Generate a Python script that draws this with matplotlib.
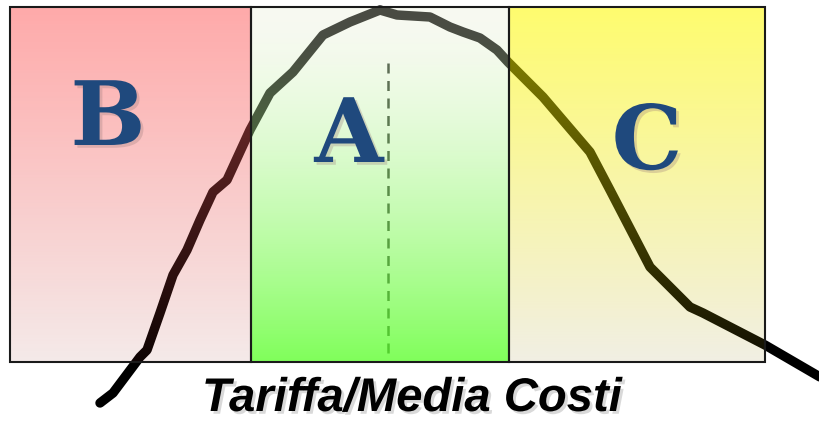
import numpy as np
import matplotlib
matplotlib.use('Agg')
import matplotlib.pyplot as plt
import matplotlib.patheffects as pe
from matplotlib.patches import Rectangle

# Zones (left to right) in pixel units
zone_labels = ['B', 'A', 'C']
zone_edges = [10, 251, 509, 765]
zone_top = 7
zone_bottom = 362

# gradient colours: (rgb, alpha) at top and bottom of each zone
zone_top_col = [((255, 100, 100), 0.55), ((233, 239, 214), 0.32), ((255, 250, 0), 0.57)]
zone_bot_col = [((150, 40, 30), 0.10), ((96, 255, 49), 0.80), ((140, 120, 20), 0.12)]
zone_ramp = [1.0, 1.6, 1.0]   # how fast each gradient moves to the bottom colour

# letter positions (centre x, baseline y)
label_x = [108, 349, 647]
label_y = [145, 162, 169]

# the curve
curve_x = [100, 113, 140, 147, 160, 173, 187, 200, 213, 227, 250, 270, 293, 323,
           350, 380, 397, 430, 450, 463, 480, 497, 508, 543, 590, 610, 650, 690,
           703, 765, 820]
curve_y = [403, 393, 357, 350, 313, 275, 250, 220, 192, 180, 130, 93, 72, 35,
           22, 10, 15, 17, 27, 32, 38, 50, 62, 97, 152, 190, 267, 307,
           313, 345, 377]

# dashed marker (mean)
mean_x = 388
mean_y = (63, 355)

title = 'Tariffa/Media Costi'

fig = plt.figure(figsize=(8.2, 4.22), dpi=100)
ax = fig.add_axes([0, 0, 1, 1])
ax.set_xlim(0, 820)
ax.set_ylim(422, 0)
ax.axis('off')

# curve and dashed line go under the translucent zones
ax.plot(curve_x, curve_y, color='black', lw=6.8, solid_capstyle='round',
        solid_joinstyle='round', zorder=1)
ax.plot([mean_x, mean_x], mean_y, color='#1e281e', lw=1.8,
        dashes=(4, 3), zorder=1)

shadow = [pe.SimplePatchShadow(offset=(2, -2), shadow_rgbFace='#9a7a7a', alpha=0.3),
          pe.Normal()]

for i in range(3):
    (ct, at), (cb, ab) = zone_top_col[i], zone_bot_col[i]
    ct = np.array(ct) / 255.0
    cb = np.array(cb) / 255.0
    t = np.linspace(0, 1, 256)[:, None] ** zone_ramp[i]
    alpha = (1 - t) * at + t * ab
    prem = (1 - t) * ct * at + t * cb * ab
    rgb = np.clip(prem / alpha, 0, 1)
    img = np.concatenate([rgb, alpha], axis=1)[:, None, :]
    x0, x1 = zone_edges[i], zone_edges[i + 1]
    ax.imshow(img, extent=(x0, x1, zone_bottom, zone_top), aspect='auto',
              interpolation='bilinear', zorder=2)
    ax.add_patch(Rectangle((x0, zone_top), x1 - x0, zone_bottom - zone_top,
                           fill=False, edgecolor='#1a1a1a', lw=1.5, zorder=3))
    ax.text(label_x[i], label_y[i], zone_labels[i], ha='center', va='baseline',
            fontsize=64, fontweight='bold', family='DejaVu Serif',
            color='#1f497d', zorder=4, path_effects=shadow)

ax.set_xlim(0, 820)
ax.set_ylim(422, 0)

ax.text(412, 411, title, ha='center', va='baseline', fontsize=34,
        fontweight='bold', fontstyle='italic', family='Liberation Sans',
        color='black', zorder=5,
        path_effects=[pe.SimplePatchShadow(offset=(2, -2), alpha=0.15),
                      pe.Normal()])

fig.savefig('out.png', dpi=100)
